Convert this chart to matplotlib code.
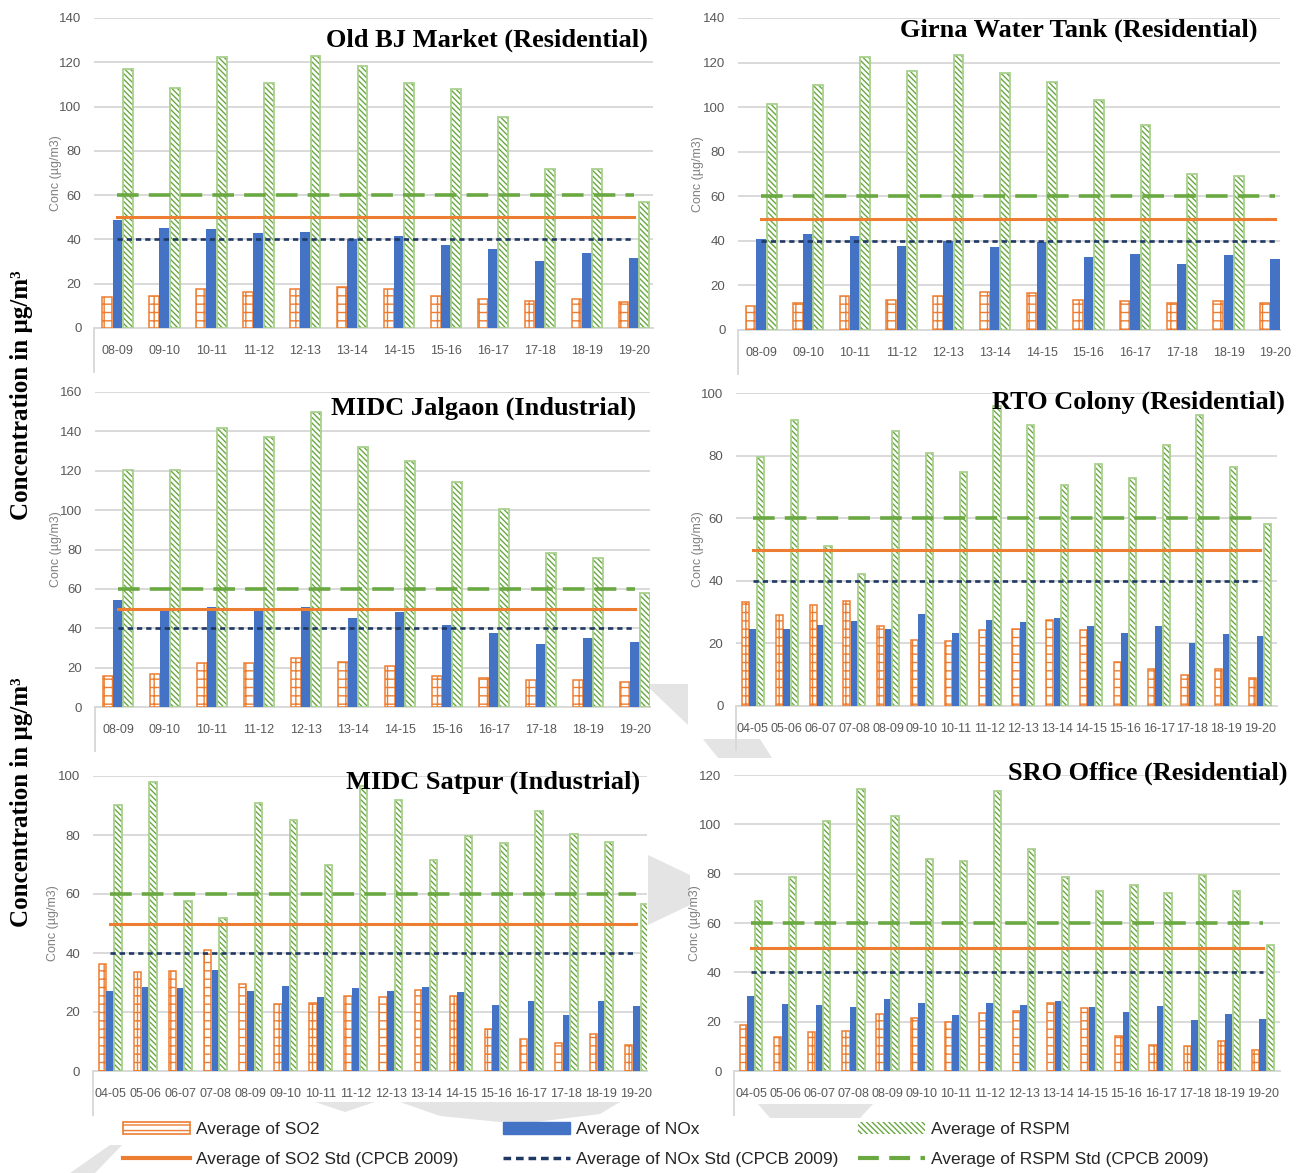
import matplotlib
matplotlib.use("Agg")
import matplotlib.pyplot as plt
from matplotlib import font_manager
from matplotlib.patches import Patch, Polygon
from matplotlib.lines import Line2D
import numpy as np

# ---------------------------------------------------------------- data
years_12 = ["08-09", "09-10", "10-11", "11-12", "12-13", "13-14",
            "14-15", "15-16", "16-17", "17-18", "18-19", "19-20"]
years_16 = ["04-05", "05-06", "06-07", "07-08"] + years_12

# Old BJ Market (Residential)
bj_so2 = [13.8, 14.6, 17.5, 16.3, 17.8, 18.7, 17.5, 14.6, 13.1, 12.2, 13.1, 11.7]
bj_nox = [48.6, 45.3, 44.6, 42.8, 43.4, 40.3, 41.5, 37.3, 35.7, 30.4, 33.9, 31.6]
bj_rspm = [117.0, 108.2, 122.2, 110.5, 123.0, 118.2, 110.5, 107.9, 95.3, 71.8, 71.8, 56.8]

# Girna Water Tank (Residential)
girna_so2 = [10.8, 12.3, 15.4, 13.5, 15.4, 16.9, 16.5, 13.5, 13.0, 12.0, 13.0, 12.0]
girna_nox = [40.7, 43.0, 42.4, 37.7, 40.1, 37.1, 39.7, 32.9, 34.1, 29.5, 33.5, 31.7]
girna_rspm = [101.5, 110.0, 122.3, 116.3, 123.5, 115.3, 111.5, 103.0, 92.0, 70.0, 69.2, 60.0]

# MIDC Jalgaon (Industrial)
jal_so2 = [15.9, 16.7, 22.6, 22.6, 24.7, 23.0, 20.8, 16.0, 14.5, 13.7, 13.7, 12.7]
jal_nox = [54.6, 49.8, 50.7, 49.8, 50.7, 45.4, 48.3, 41.9, 37.5, 32.1, 35.0, 32.8]
jal_rspm = [120.3, 120.3, 141.7, 137.2, 149.9, 132.3, 125.0, 114.4, 100.4, 78.4, 75.5, 57.8]

# RTO Colony (Residential)
rto_so2 = [33.3, 29.0, 32.4, 33.6, 25.6, 21.1, 20.7, 24.3, 24.6, 27.4, 24.3, 14.0, 11.8, 9.9, 11.9, 9.0]
rto_nox = [24.6, 24.6, 25.9, 27.1, 24.6, 29.3, 23.2, 27.6, 26.8, 28.2, 25.6, 23.2, 25.4, 20.0, 22.9, 22.4]
rto_rspm = [79.4, 91.5, 51.2, 42.1, 87.8, 80.9, 74.8, 96.0, 89.9, 70.6, 77.3, 72.7, 83.3, 92.9, 76.2, 58.0]

# MIDC Satpur (Industrial)
sat_so2 = [36.4, 33.6, 33.8, 40.9, 29.6, 22.6, 23.1, 25.4, 25.1, 27.3, 25.4, 14.2, 11.0, 9.6, 12.5, 8.7]
sat_nox = [27.1, 28.5, 28.1, 34.4, 27.2, 28.9, 25.1, 28.2, 27.1, 28.4, 26.9, 22.5, 23.7, 18.9, 23.7, 22.1]
sat_rspm = [90.1, 98.0, 57.6, 51.9, 91.0, 85.2, 69.7, 96.5, 91.8, 71.4, 79.7, 77.4, 88.0, 80.5, 77.6, 56.7]

# SRO Office (Residential)
sro_so2 = [18.5, 13.9, 15.7, 16.4, 23.0, 21.4, 20.0, 23.6, 24.5, 27.4, 25.4, 14.3, 10.5, 10.3, 12.3, 8.4]
sro_nox = [30.4, 27.0, 26.8, 25.9, 29.3, 27.6, 22.6, 27.6, 26.8, 28.4, 26.1, 23.8, 26.5, 20.5, 23.1, 21.1]
sro_rspm = [69.0, 78.5, 101.5, 114.2, 103.5, 85.9, 85.1, 113.5, 89.9, 78.5, 73.1, 75.5, 72.3, 79.5, 73.1, 51.1]

# CPCB 2009 annual standards (µg/m3)
SO2_STD = 50
NOX_STD = 40
RSPM_STD = 60

# ---------------------------------------------------------------- style
ORANGE = "#ED7D31"
BLUE = "#4472C4"
GREEN = "#6AA842"
GREEN_EDGE = "#A9D18E"
NAVY = "#1F3864"
GRID = "#D9D9D9"
TEXT_GREY = "#595959"

W, H, DPI = 1303, 1173, 100


def has_font(name):
    try:
        font_manager.findfont(font_manager.FontProperties(family=name),
                              fallback_to_default=False)
        return True
    except Exception:
        return False


if has_font("Liberation Sans Narrow"):
    AX_FONT, TICK_SIZE, YL_SIZE, LEG_SIZE = "Liberation Sans Narrow", 10.5, 10.5, 14
else:
    AX_FONT, TICK_SIZE, YL_SIZE, LEG_SIZE = "Liberation Sans", 9, 9, 12.5
SERIF = "Liberation Serif"

plt.rcParams["hatch.linewidth"] = 1.0
plt.rcParams["font.family"] = [AX_FONT, "DejaVu Sans"]

fig = plt.figure(figsize=(W / DPI, H / DPI), dpi=DPI, facecolor="white")


def fx(x):
    return x / W


def fy(y):
    return 1 - y / H


# faint watermark shapes behind the charts
marks = [
    [(703, 739), (760, 739), (772, 758), (718, 758)],
    [(645, 684), (688, 684), (688, 725)],
    [(648, 855), (690, 875), (690, 905), (648, 925)],
    [(315, 1102), (375, 1102), (345, 1112)],
    [(400, 1102), (620, 1102), (600, 1114), (520, 1124), (440, 1116)],
    [(758, 1104), (873, 1104), (860, 1118), (770, 1118)],
    [(70, 1173), (110, 1145), (122, 1145), (95, 1173)],
]
for pts in marks:
    fig.add_artist(Polygon([(fx(a), fy(b)) for a, b in pts], closed=True,
                           transform=fig.transFigure, facecolor="#E4E4E4",
                           edgecolor="none", zorder=-5))


def panel(box, cats, so2, nox, rspm, ymax, xright, title, title_xy, ylab_x):
    left, top, right, bottom = box
    ax = fig.add_axes([fx(left), fy(bottom), (right - left) / W, (bottom - top) / H])
    ax.set_facecolor("none")
    n = len(cats)
    x = np.arange(n)
    w = 0.21
    ax.bar(x - 0.22, so2, w, facecolor="white", edgecolor=ORANGE,
           hatch="++", linewidth=1.1, zorder=3)
    ax.bar(x, nox, w, color=BLUE, linewidth=0, zorder=3)
    ax.bar(x + 0.22, rspm, w, facecolor="white", edgecolor=GREEN,
           hatch="\\\\\\\\\\\\", linewidth=0, zorder=3)
    ax.bar(x + 0.22, rspm, w, fill=False, edgecolor=GREEN_EDGE,
           linewidth=1.3, zorder=3.1)

    ax.plot(x, [RSPM_STD] * n, color=GREEN, lw=2.6, dashes=(6.0, 2.8), zorder=4)
    ax.plot(x, [SO2_STD] * n, color=ORANGE, lw=2.2, zorder=4)
    ax.plot(x, [NOX_STD] * n, color=NAVY, lw=1.9, dashes=(2.0, 1.5), zorder=4)

    ax.set_xlim(-0.5, xright)
    ax.set_ylim(0, ymax)
    ax.set_yticks(np.arange(0, ymax + 1, 20))
    ax.yaxis.grid(True, color=GRID, lw=1.4)
    ax.set_axisbelow(True)
    for s in ("top", "right", "left"):
        ax.spines[s].set_visible(False)
    ax.spines["bottom"].set_color(GRID)
    ax.spines["bottom"].set_linewidth(1.4)
    ax.set_xticks(x)
    ax.set_xticklabels(cats)
    ax.tick_params(axis="both", length=0, colors=TEXT_GREY, labelsize=TICK_SIZE)
    ax.tick_params(axis="y", labelsize=TICK_SIZE + 0.5)
    ax.tick_params(axis="x", pad=12)
    ax.tick_params(axis="y", pad=9)
    # category box edge below the axis
    depth = 44 / (bottom - top)
    ax.plot([0, 0], [0, -depth], transform=ax.transAxes, color=GRID,
            lw=1.4, clip_on=False)

    fig.text(fx(ylab_x), fy((top + bottom) / 2), "Conc (µg/m3)", rotation=90,
             ha="center", va="center", color="#808080", fontsize=YL_SIZE)
    fig.text(fx(title_xy[0]), fy(title_xy[1]), title, ha="right", va="center",
             family=SERIF, fontweight="bold", fontsize=19, color="black", zorder=10)
    return ax


panel((94, 18, 653, 328), years_12, bj_so2, bj_nox, bj_rspm, 140, 11.41,
      "Old BJ Market (Residential)", (648, 40), 56)
panel((738, 18, 1280, 330), years_12, girna_so2, girna_nox, girna_rspm, 140, 11.1,
      "Girna Water Tank (Residential)", (1258, 30), 698)
panel((94.5, 392, 650, 707), years_12, jal_so2, jal_nox, jal_rspm, 160, 11.32,
      "MIDC Jalgaon (Industrial)", (636, 408), 56)
panel((736, 393, 1277, 706), years_16, rto_so2, rto_nox, rto_rspm, 100, 15.5,
      "RTO Colony (Residential)", (1285, 402), 698)
panel((92.6, 776, 647, 1071), years_16, sat_so2, sat_nox, sat_rspm, 100, 15.3,
      "MIDC Satpur (Industrial)", (640, 782), 53)
panel((734, 775, 1280, 1071), years_16, sro_so2, sro_nox, sro_rspm, 120, 15.5,
      "SRO Office (Residential)", (1287, 773), 695)

# shared axis titles
for yc in (395, 802):
    fig.text(fx(22), fy(yc), "Concentration in µg/m³", rotation=90,
             ha="center", va="center", family=SERIF, fontweight="bold",
             fontsize=18, color="black")

# legend, three columns of two rows
legend_cols = [
    (123, [Patch(facecolor="white", edgecolor=ORANGE, hatch="---", linewidth=1.2),
           Line2D([], [], color=ORANGE, lw=3)],
     ["Average of SO2", "Average of SO2 Std (CPCB 2009)"]),
    (503, [Patch(facecolor=BLUE, edgecolor=BLUE),
           Line2D([], [], color=NAVY, lw=2.5, dashes=(2.2, 1.4))],
     ["Average of NOx", "Average of NOx Std (CPCB 2009)"]),
    (858, [Patch(facecolor="white", edgecolor=GREEN, hatch="\\\\\\\\\\\\", linewidth=0),
           Line2D([], [], color=GREEN, lw=3, dashes=(5.0, 2.5))],
     ["Average of RSPM", "Average of RSPM Std (CPCB 2009)"]),
]
for xpos, handles, labels in legend_cols:
    fig.legend(handles, labels, loc="center left",
               bbox_to_anchor=(fx(xpos), fy(1144.5)), frameon=False,
               fontsize=LEG_SIZE, handlelength=67 / (LEG_SIZE * DPI / 72),
               handleheight=0.6, handletextpad=0.35, labelspacing=0.85,
               borderpad=0, borderaxespad=0, labelcolor="#262626")

fig.savefig("out.png", dpi=DPI, facecolor="white")
